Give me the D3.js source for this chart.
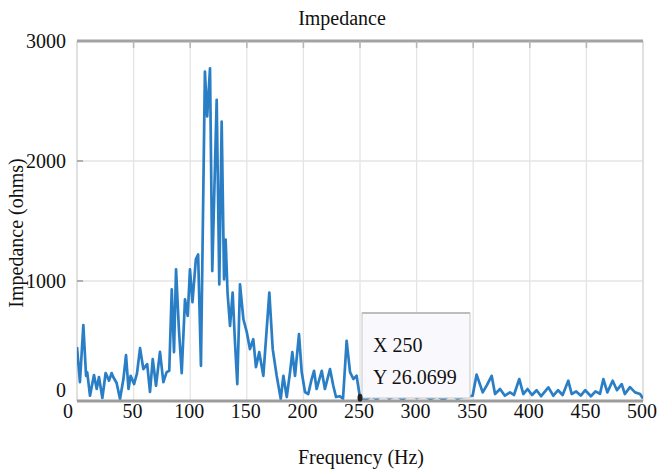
<!DOCTYPE html>
<html>
<head>
<meta charset="utf-8">
<script src="https://cdn.jsdelivr.net/npm/d3@7"></script>
<style>
  body { margin: 0; background: #fff; }
  text { font-family: "Liberation Serif", "Times New Roman", serif; fill: #111; }
</style>
</head>
<body>
<div id="chart"></div>
<script>
// frequency samples (Hz)
var freqHz = [0, 2.6, 5.6, 8, 9, 11.5, 15, 17.4, 19.4, 22.4, 25.3, 28.3, 30.6, 32, 35, 38, 41, 43.3, 45.5, 47.4,
  50.4, 53, 55.7, 58.6, 62, 64.5, 66.9, 69.8, 73.3, 76.3, 79.2, 81.5, 83.7, 85.7, 87.5, 90, 92.5, 95.4, 97.8, 99.8,
  102, 105, 107, 109.5, 113, 115, 117.5, 119.5, 123.4, 125.7, 127.8, 129.9, 131.3, 133, 135.2, 137.5, 139.5, 141.6, 144, 147,
  150, 152.8, 155.7, 158.1, 161, 164.6, 169.9, 172.9, 176.4, 180, 182.3, 185.3, 188.2, 190.2, 192.6, 196.1, 198.5,
  201.4, 204.3, 207.3, 209.4, 211.7, 216.2, 219, 223.5, 226.4, 228.8, 232, 235, 238.2, 241.2, 244.1, 247, 250,
  255, 260, 265, 270, 276, 282, 288, 294, 300, 306, 312, 318, 324, 330, 336, 342, 349.5,
  353, 358.4, 362, 366.3, 369.3, 373.7, 378, 382.5, 386, 390.7, 394.3, 398, 402, 406, 410, 416.4, 420.8, 425, 429,
  434, 437, 441, 445, 449, 454, 458, 462, 465, 468.5, 473.2, 477, 481.2, 484, 488.5, 493, 497.4, 500];

// impedance (ohms) at each frequency
var impedance = [450, 158, 632, 210, 240, 44, 216, 100, 200, 25, 233, 170, 233, 200, 150, 17, 183, 382, 100, 210,
  141, 230, 440, 266, 307, 75, 349, 127, 410, 158, 241, 252, 930, 407, 1097, 600, 233, 848, 709, 1097,
  823, 1180, 1221, 293, 2745, 2371, 2773, 1083, 2510, 972, 2329, 1014, 1346, 900, 626, 903, 500, 141, 972, 681,
  573, 432, 515, 283, 407, 210, 903, 432, 210, 17, 210, 33, 241, 407, 210, 557, 241,
  75, 58, 183, 252, 100, 252, 100, 266, 127, 33, 40, 20, 501, 241, 183, 210, 26,
  10, 40, 15, 60, 20, 45, 10, 70, 25, 50, 15, 40, 10, 55, 20, 35, 44,
  220, 72, 130, 210, 58, 100, 44, 72, 50, 183, 58, 100, 50, 90, 40, 114, 44, 90, 50,
  169, 58, 80, 45, 90, 40, 80, 60, 183, 72, 169, 90, 141, 58, 116, 72, 58, 20];

var xTicks = [0, 50, 100, 150, 200, 250, 300, 350, 400, 450, 500];
var yTicks = [0, 1000, 2000, 3000];

// the data tip shown on the chart
var tipX = 250,
    tipY = 26.0699;

var pic_width = 657,
    pic_height = 472;

// plot box inside the svg
var margin = { top: 41, right: 14, bottom: 71, left: 77 };
var width = pic_width - margin.left - margin.right,
    height = pic_height - margin.top - margin.bottom;

var lineColor = '#1370bf',
    gridColor = '#e4e4e4';

var xScale = d3.scaleLinear().domain([0, 500]).range([0, width]);
var yScale = d3.scaleLinear().domain([0, 3000]).range([height, 0]);

var svg = d3.select('#chart').append('svg')
    .attr('width', pic_width)
    .attr('height', pic_height);

var g = svg.append('g')
    .attr('transform', 'translate(' + margin.left + ', ' + margin.top + ')');

g.append('clipPath').attr('id', 'plotclip')
  .append('rect')
    .attr('x', 0).attr('y', -2)
    .attr('width', width).attr('height', height + 4);

// grid lines
g.append('g').selectAll('line').data(xTicks.slice(1, -1))
  .enter().append('line')
    .attr('x1', function(d) { return xScale(d); })
    .attr('x2', function(d) { return xScale(d); })
    .attr('y1', 0).attr('y2', height)
    .style('stroke', gridColor).style('stroke-width', 1.3);

g.append('g').selectAll('line').data(yTicks.slice(1, -1))
  .enter().append('line')
    .attr('x1', 0).attr('x2', width)
    .attr('y1', function(d) { return yScale(d); })
    .attr('y2', function(d) { return yScale(d); })
    .style('stroke', gridColor).style('stroke-width', 1.3);

// light box edges left and right
g.append('line').attr('x1', 0).attr('x2', 0).attr('y1', 0).attr('y2', height)
    .style('stroke', '#d6d6d6').style('stroke-width', 1.5);
g.append('line').attr('x1', width).attr('x2', width).attr('y1', 0).attr('y2', height)
    .style('stroke', '#d6d6d6').style('stroke-width', 1.5);

// top edge with small tick marks
g.append('line').attr('x1', 0).attr('x2', width).attr('y1', 0).attr('y2', 0)
    .style('stroke', '#a3a3a3').style('stroke-width', 3);
g.append('g').selectAll('line').data(xTicks.slice(1, -1))
  .enter().append('line')
    .attr('x1', function(d) { return xScale(d); })
    .attr('x2', function(d) { return xScale(d); })
    .attr('y1', 0).attr('y2', 7)
    .style('stroke', '#b5b5b5').style('stroke-width', 1.5);

// left tick stubs
g.append('g').selectAll('line').data(yTicks.slice(1, -1))
  .enter().append('line')
    .attr('x1', 0).attr('x2', 6)
    .attr('y1', function(d) { return yScale(d); })
    .attr('y2', function(d) { return yScale(d); })
    .style('stroke', '#b0b0b0').style('stroke-width', 2);

// impedance line
var line = d3.line()
    .x(function(d, i) { return xScale(freqHz[i]); })
    .y(function(d) { return yScale(d); });

g.append('path').datum(impedance)
    .attr('clip-path', 'url(#plotclip)')
    .attr('d', line)
    .style('fill', 'none')
    .style('stroke', lineColor)
    .style('stroke-width', 2.7)
    .style('stroke-linejoin', 'round')
    .style('opacity', 0.9);

// bottom axis bar
g.append('line').attr('x1', 0).attr('x2', width)
    .attr('y1', yScale(0)).attr('y2', yScale(0))
    .style('stroke', '#9c9c9c').style('stroke-width', 3);

// data tip box
var tipLeft = xScale(tipX) + 2,
    tipTop = yScale(0) - 88;
g.append('rect')
    .attr('x', tipLeft).attr('y', tipTop)
    .attr('width', 108).attr('height', 85)
    .style('fill', '#f9f9fd')
    .style('stroke', '#cfcfcf').style('stroke-width', 1.2);
g.append('line')
    .attr('x1', tipLeft).attr('x2', tipLeft + 108)
    .attr('y1', tipTop).attr('y2', tipTop)
    .style('stroke', '#bdbdbd').style('stroke-width', 2);
g.append('text')
    .attr('x', tipLeft + 11).attr('y', tipTop + 39)
    .style('font-size', '20px')
    .text('X ' + tipX);
g.append('text')
    .attr('x', tipLeft + 11).attr('y', tipTop + 71)
    .style('font-size', '20px')
    .text('Y ' + tipY);
g.append('ellipse')
    .attr('cx', xScale(tipX)).attr('cy', yScale(tipY))
    .attr('rx', 2.5).attr('ry', 4)
    .style('fill', '#222');

// tick labels
g.append('g').selectAll('text').data(xTicks)
  .enter().append('text')
    .attr('x', function(d) { return xScale(d) + (d === 0 ? -9 : -1); })
    .attr('y', height + 17)
    .attr('text-anchor', 'middle')
    .style('font-size', '20px')
    .text(function(d) { return d; });

g.append('g').selectAll('text').data(yTicks)
  .enter().append('text')
    .attr('x', -11)
    .attr('y', function(d) { return yScale(d) + (d === 0 ? -4 : 7); })
    .attr('text-anchor', 'end')
    .style('font-size', '20px')
    .text(function(d) { return d; });

// titles
svg.append('text')
    .attr('x', 342).attr('y', 25)
    .attr('text-anchor', 'middle')
    .style('font-size', '20px')
    .text('Impedance');

svg.append('text')
    .attr('x', 361).attr('y', 464)
    .attr('text-anchor', 'middle')
    .style('font-size', '20px')
    .text('Frequency (Hz)');

svg.append('text')
    .attr('transform', 'translate(23, 233) rotate(-90)')
    .attr('text-anchor', 'middle')
    .style('font-size', '20px')
    .text('Impedance (ohms)');
</script>
</body>
</html>
